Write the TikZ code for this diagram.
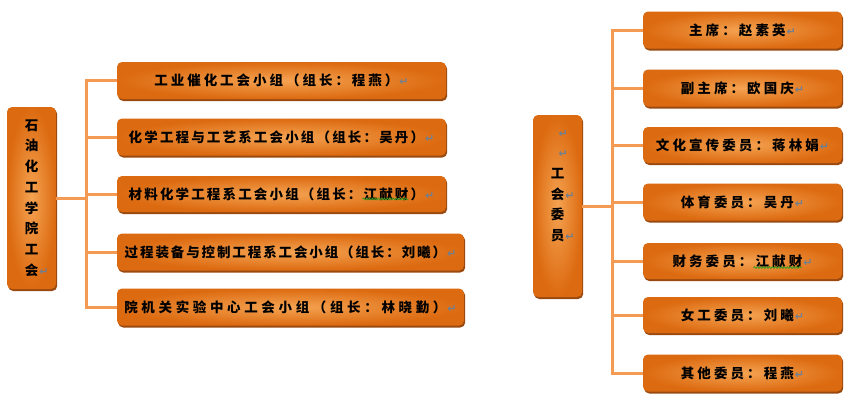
\documentclass[tikz,border=0pt]{standalone}
\usepackage{fontspec}
\newfontfamily\cjk[LetterSpace=22]{Noto Sans CJK SC}
\newfontfamily\symf{DejaVu Sans}
\usetikzlibrary{shadows,decorations.pathmorphing,calc}
\definecolor{boxout}{HTML}{DC6A10}
\definecolor{boxin}{HTML}{F5A352}
\definecolor{shadowc}{HTML}{9A4A10}
\definecolor{linec}{HTML}{F49A52}
\definecolor{markc}{HTML}{6E7F92}
\definecolor{wavec}{HTML}{3C9A1E}
\newcommand{\pmark}{{\symf\fontsize{11pt}{11pt}\selectfont\color{markc}\kern1pt↵}}
\newcommand{\pmarkr}{\rlap{\symf\fontsize{11pt}{11pt}\selectfont\color{markc}\kern1pt↵}}
\newcommand{\ls}[1]{\addfontfeature{LetterSpace=#1}}
\tikzset{
  orgbox/.style={rectangle, rounded corners=5pt, inner sep=0pt,
    inner color=boxin, outer color=boxout,
    drop shadow={shadow xshift=1.2pt, shadow yshift=-2pt, fill=shadowc, opacity=1},
    font=\cjk\bfseries\fontsize{13.5pt}{16pt}\selectfont, text=black},
  vbox/.style={orgbox, minimum width=49pt, minimum height=182pt, align=center,
    font=\cjk\bfseries\fontsize{13.5pt}{20.7pt}\selectfont},
  conn/.style={draw=linec, line width=3pt},
  wavy/.style={draw=wavec, line width=0.8pt, decorate,
    decoration={snake, amplitude=0.9pt, segment length=3pt}}
}
\begin{document}
\begin{tikzpicture}[x=1pt,y=-1pt]
\useasboundingbox[fill=white] (0,0) rectangle (850,405);
% ---------- left part ----------
\node[vbox] (L) at (31.5,198) {石\\油\\化\\工\\学\\院\\工\\会\pmarkr};
\node[orgbox, minimum width=329pt, minimum height=37pt] (g1) at (281.5,80.5) {工业催化工会小组（组长：程燕）\pmark};
\node[orgbox, minimum width=329pt, minimum height=37pt] (g2) at (281.5,137) {\ls{16}化学工程与工艺系工会小组（组长：吴丹）\pmark};
\node[orgbox, minimum width=329pt, minimum height=36pt] (g3) at (281.5,194) {\ls{16}材料化学工程系工会小组（组长：江献财）\pmark};
\node[orgbox, minimum width=347pt, minimum height=37pt] (g4) at (290.5,252) {\ls{14}过程装备与控制工程系工会小组（组长：刘曦）\pmark};
\node[orgbox, minimum width=347pt, minimum height=37pt] (g5) at (290.5,307) {\ls{27}院机关实验中心工会小组（组长：林晓勤）\pmark};
\coordinate (bl) at (86,0);
\draw[conn] (L.east) -- (L.east -| bl);
\draw[conn] (g1.west) -- (g1.west -| bl) -- (g5.west -| bl) -- (g5.west);
\foreach \n in {g2,g3,g4} \draw[conn] (\n.west) -- (\n.west -| bl);
\draw[wavy] ($(g3.center)+(81,5)$) -- ++(46,0);
% ---------- right part ----------
\node[vbox] (W) at (557.5,206) {\pmarkr\\\pmarkr\\工\\会\pmarkr\\委\\员\pmarkr\\\mbox{}\\\mbox{}};
\node[orgbox, minimum width=199pt, minimum height=37pt] (r1) at (742.5,30) {\ls{23}主席：赵素英\pmark};
\node[orgbox, minimum width=199pt, minimum height=37pt] (r2) at (742.5,88) {\ls{23}副主席：欧国庆\pmark};
\node[orgbox, minimum width=199pt, minimum height=36pt] (r3) at (742.5,145) {\ls{23}文化宣传委员：蒋林娟\pmark};
\node[orgbox, minimum width=199pt, minimum height=37pt] (r4) at (742.5,202) {\ls{23}体育委员：吴丹\pmark};
\node[orgbox, minimum width=199pt, minimum height=36pt] (r5) at (742.5,261) {\ls{23}财务委员：江献财\pmark};
\node[orgbox, minimum width=199pt, minimum height=36pt] (r6) at (742.5,315) {\ls{23}女工委员：刘曦\pmark};
\node[orgbox, minimum width=199pt, minimum height=37pt] (r7) at (742.5,373) {\ls{23}其他委员：程燕\pmark};
\coordinate (br) at (612,0);
\draw[conn] (W.east) -- (W.east -| br);
\draw[conn] (r1.west) -- (r1.west -| br) -- (r7.west -| br) -- (r7.west);
\foreach \n in {r2,r3,r4,r5,r6} \draw[conn] (\n.west) -- (\n.west -| br);
\draw[wavy] ($(r5.center)+(11,6.5)$) -- ++(48,0);
\end{tikzpicture}
\end{document}
